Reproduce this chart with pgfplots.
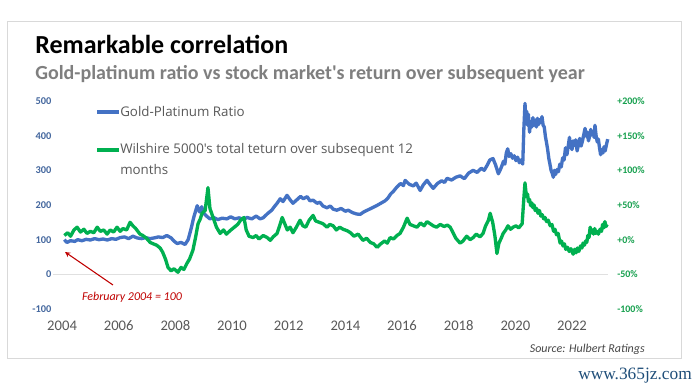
\documentclass[border=0pt]{standalone}
\usepackage{pgfplots}
\pgfplotsset{compat=1.18}
\usepackage{fontspec}
\setmainfont{Carlito}[Ligatures=TeXOff]
\newfontfamily\legfont{Open Sans}[Ligatures=TeXOff]
\newfontfamily\wmfont{Liberation Serif}
\definecolor{bl}{HTML}{4472C4}
\definecolor{gr}{HTML}{00B050}
\definecolor{txt}{HTML}{595959}
\definecolor{subc}{HTML}{7F7F7F}
\definecolor{lt}{HTML}{44679E}
\definecolor{rt}{HTML}{16A04E}
\definecolor{ann}{HTML}{C00000}
\definecolor{wm}{HTML}{1F4E79}

\pgfplotstableread{
year val
2004.08 100
2004.17 92
2004.30 97
2004.45 95
2004.55 100
2004.70 97
2004.85 101
2005.00 99
2005.15 103
2005.30 100
2005.45 102
2005.60 99
2005.75 103
2005.90 101
2006.05 106
2006.20 108
2006.35 103
2006.50 110
2006.65 105
2006.80 103
2006.95 106
2007.10 103
2007.25 105
2007.40 108
2007.55 106
2007.70 112
2007.85 105
2007.95 96
2008.06 89
2008.20 92
2008.34 86
2008.45 100
2008.55 130
2008.65 165
2008.77 198
2008.85 180
2008.93 195
2009.00 176
2009.10 168
2009.22 160
2009.35 164
2009.50 158
2009.65 162
2009.82 160
2009.95 166
2010.10 160
2010.25 163
2010.40 158
2010.53 164
2010.70 160
2010.85 168
2010.99 160
2011.10 163
2011.25 175
2011.40 185
2011.50 196
2011.59 205
2011.70 218
2011.80 210
2011.94 228
2012.05 215
2012.15 205
2012.30 216
2012.42 225
2012.51 218
2012.65 224
2012.75 212
2012.86 214
2013.00 205
2013.10 208
2013.21 197
2013.35 192
2013.47 197
2013.57 188
2013.70 185
2013.85 190
2014.00 182
2014.10 185
2014.25 178
2014.40 174
2014.52 173
2014.65 180
2014.80 186
2014.95 192
2015.10 198
2015.25 205
2015.40 212
2015.50 220
2015.60 232
2015.70 240
2015.82 252
2015.95 262
2016.05 256
2016.11 271
2016.25 260
2016.40 255
2016.50 263
2016.64 242
2016.75 258
2016.88 271
2016.98 260
2017.10 248
2017.25 262
2017.40 270
2017.50 265
2017.59 277
2017.75 272
2017.90 280
2018.05 284
2018.20 276
2018.35 292
2018.51 300
2018.65 294
2018.80 306
2018.90 300
2019.00 314
2019.10 330
2019.21 334
2019.30 316
2019.40 290
2019.46 300
2019.52 312
2019.58 326
2019.63 318
2019.68 350
2019.73 362
2019.78 340
2019.84 348
2019.90 335
2019.96 342
2020.02 328
2020.08 338
2020.14 322
2020.20 330
2020.26 318
2020.30 420
2020.34 493
2020.37 450
2020.40 470
2020.43 430
2020.46 462
2020.50 410
2020.54 440
2020.58 425
2020.62 452
2020.66 430
2020.70 445
2020.74 425
2020.78 450
2020.82 432
2020.86 446
2020.90 438
2020.94 455
2020.98 430
2021.02 425
2021.06 398
2021.10 380
2021.14 360
2021.18 335
2021.22 318
2021.26 300
2021.30 292
2021.34 280
2021.38 300
2021.42 288
2021.47 302
2021.52 296
2021.57 318
2021.62 310
2021.67 336
2021.72 330
2021.77 365
2021.82 345
2021.87 372
2021.91 395
2021.95 370
2022.00 360
2022.04 385
2022.08 372
2022.13 388
2022.18 356
2022.23 375
2022.27 392
2022.32 370
2022.37 385
2022.42 405
2022.46 421
2022.50 398
2022.54 410
2022.58 385
2022.62 398
2022.66 418
2022.70 402
2022.74 412
2022.78 395
2022.81 430
2022.85 400
2022.89 382
2022.93 390
2022.97 365
2023.01 345
2023.05 360
2023.09 350
2023.13 368
2023.17 356
2023.21 372
2023.26 390
}\blue

\pgfplotstableread{
year val
2004.08 6
2004.20 10
2004.30 5
2004.42 14
2004.53 18
2004.65 11
2004.77 15
2004.88 9
2005.00 12
2005.12 10
2005.24 18
2005.35 12
2005.47 14
2005.59 8
2005.70 14
2005.82 11
2005.94 18
2006.05 12
2006.15 16
2006.28 14
2006.40 25
2006.50 20
2006.60 16
2006.75 8
2006.85 6
2006.98 2
2007.11 -4
2007.22 -6
2007.34 -8
2007.46 -12
2007.55 -18
2007.65 -28
2007.74 -40
2007.85 -45
2007.95 -42
2008.09 -47
2008.20 -40
2008.30 -43
2008.41 -34
2008.50 -28
2008.62 -15
2008.72 5
2008.80 23
2008.88 30
2008.94 38
2009.05 42
2009.15 75
2009.22 45
2009.33 32
2009.45 18
2009.58 9
2009.70 14
2009.80 8
2009.93 13
2010.05 17
2010.20 22
2010.30 28
2010.42 32
2010.50 14
2010.60 5
2010.74 3
2010.85 6
2010.95 1
2011.10 6
2011.24 3
2011.35 -1
2011.45 4
2011.59 9
2011.68 20
2011.77 32
2011.87 22
2011.95 14
2012.05 18
2012.15 10
2012.27 18
2012.40 28
2012.50 20
2012.60 18
2012.72 28
2012.86 35
2012.95 27
2013.08 25
2013.21 23
2013.35 18
2013.45 22
2013.57 20
2013.68 14
2013.80 18
2013.92 15
2014.06 13
2014.18 10
2014.30 5
2014.45 8
2014.62 -1
2014.75 2
2014.88 -4
2015.00 -6
2015.12 -11
2015.25 -6
2015.38 -2
2015.48 -5
2015.58 3
2015.70 1
2015.82 6
2015.93 9
2016.05 18
2016.18 31
2016.28 22
2016.40 20
2016.53 18
2016.65 24
2016.78 20
2016.88 26
2016.99 23
2017.10 20
2017.22 18
2017.35 22
2017.48 19
2017.60 21
2017.70 18
2017.80 10
2017.90 2
2018.05 -5
2018.15 -2
2018.28 5
2018.40 0
2018.51 3
2018.62 8
2018.75 4
2018.86 9
2018.95 20
2019.05 28
2019.11 38
2019.20 25
2019.28 5
2019.35 -20
2019.42 -5
2019.50 2
2019.57 9
2019.66 14
2019.74 20
2019.83 15
2019.92 18
2020.02 20
2020.12 17
2020.24 23
2020.30 60
2020.34 82
2020.37 70
2020.40 62
2020.43 66
2020.46 55
2020.50 58
2020.54 49
2020.58 53
2020.62 46
2020.66 50
2020.70 42
2020.75 45
2020.80 38
2020.85 42
2020.90 34
2020.95 36
2021.00 30
2021.05 32
2021.10 26
2021.16 28
2021.23 20
2021.29 22
2021.35 12
2021.40 15
2021.45 7
2021.51 9
2021.58 -5
2021.63 -2
2021.68 -9
2021.73 -6
2021.78 -14
2021.84 -11
2021.90 -17
2021.96 -13
2022.04 -21
2022.09 -14
2022.14 -19
2022.19 -12
2022.24 -17
2022.30 -9
2022.35 -12
2022.39 -5
2022.44 -8
2022.48 -2
2022.52 -4
2022.56 6
2022.60 3
2022.64 18
2022.68 10
2022.72 14
2022.76 8
2022.80 16
2022.84 9
2022.88 12
2022.93 8
2022.99 15
2023.04 12
2023.08 22
2023.12 17
2023.16 26
2023.20 19
2023.24 22
}\green

\begin{document}
\begin{tikzpicture}
\useasboundingbox (0,0) rectangle (525pt,294pt);
\fill[white] (0,0) rectangle (525pt,294pt);
\draw[black!15, line width=0.75pt] (5.25pt,24.75pt) rectangle (510.75pt,277.5pt);

\node[anchor=base west, inner sep=0pt, font=\fontsize{19.5}{22}\selectfont\bfseries] at (26.25pt,253.5pt) {Remarkable correlation};
\node[anchor=base west, inner sep=0pt, text=subc, font=\fontsize{15}{17}\selectfont\bfseries] at (26.25pt,234pt) {Gold-platinum ratio vs stock market's return over subsequent year};

\begin{axis}[
  at={(39.75pt,62.25pt)}, anchor=south west,
  scale only axis, width=416.25pt, height=156pt,
  xmin=2003.68, xmax=2023.27, ymin=-100, ymax=500,
  axis line style={draw=none}, tick style={draw=none},
  clip=false,
  xtick={2004,2006,...,2022},
  xticklabels={2004,2006,2008,2010,2012,2014,2016,2018,2020,2022},
  xticklabel style={anchor=north, inner sep=0pt, yshift=-8.5pt, text=txt, font=\fontsize{11}{13}\selectfont},
  ytick={-100,0,...,500},
  yticklabels={-100,0,100,200,300,400,500},
  yticklabel style={anchor=east, inner sep=0pt, xshift=-1pt, text=lt, font=\fontsize{7.8}{9}\selectfont\bfseries},
  extra y ticks={0}, extra y tick labels={},
  extra y tick style={grid=major, major grid style={draw=black!12, line width=0.9pt}},
]
\addplot[bl, line width=2.5pt, line join=round] table[x=year,y=val] {\blue};
\end{axis}

\begin{axis}[
  at={(39.75pt,62.25pt)}, anchor=south west,
  scale only axis, width=416.25pt, height=156pt,
  xmin=2003.68, xmax=2023.27, ymin=-100, ymax=200,
  axis x line=none, axis y line*=right,
  axis line style={draw=none}, tick style={draw=none},
  clip=false,
  ytick={-100,-50,...,200},
  yticklabels={-100\%,-50\%,+0\%,+50\%,+100\%,+150\%,+200\%},
  yticklabel style={anchor=west, inner sep=0pt, xshift=6.75pt, text=rt, font=\fontsize{7.5}{9}\selectfont\bfseries},
]
\addplot[gr, line width=2.5pt, line join=round] table[x=year,y=val] {\green};
\end{axis}

% legend
\draw[bl, line width=2.3pt] (72.75pt,210pt) -- (89.25pt,210pt);
\node[anchor=west, inner sep=0pt, text=txt, font=\legfont\fontsize{10}{12}\selectfont] at (90pt,210pt) {Gold-Platinum Ratio};
\draw[gr, line width=2.3pt] (72.75pt,181.5pt) -- (89.25pt,181.5pt);
\node[anchor=west, inner sep=0pt, text=txt, font=\legfont\fontsize{10}{12}\selectfont] at (90pt,181.5pt) {Wilshire 5000's total teturn over subsequent 12};
\node[anchor=west, inner sep=0pt, text=txt, font=\legfont\fontsize{10}{12}\selectfont] at (90pt,166.5pt) {months};

% annotation
\draw[ann, line width=0.8pt, -stealth] (84.75pt,80.25pt) -- (48.75pt,105pt);
\node[text=ann, font=\fontsize{9}{11}\selectfont\itshape, inner sep=0pt] at (99pt,71.25pt) {February 2004 = 100};

\node[anchor=east, text=txt!80!black, font=\fontsize{9}{11}\selectfont\itshape, inner sep=0pt] at (483.75pt,32.25pt) {Source: Hulbert Ratings};

\node[anchor=east, text=wm, font=\wmfont\fontsize{13}{15}\selectfont, inner sep=0pt] at (519pt,12pt) {www.365jz.com};
\end{tikzpicture}
\end{document}
